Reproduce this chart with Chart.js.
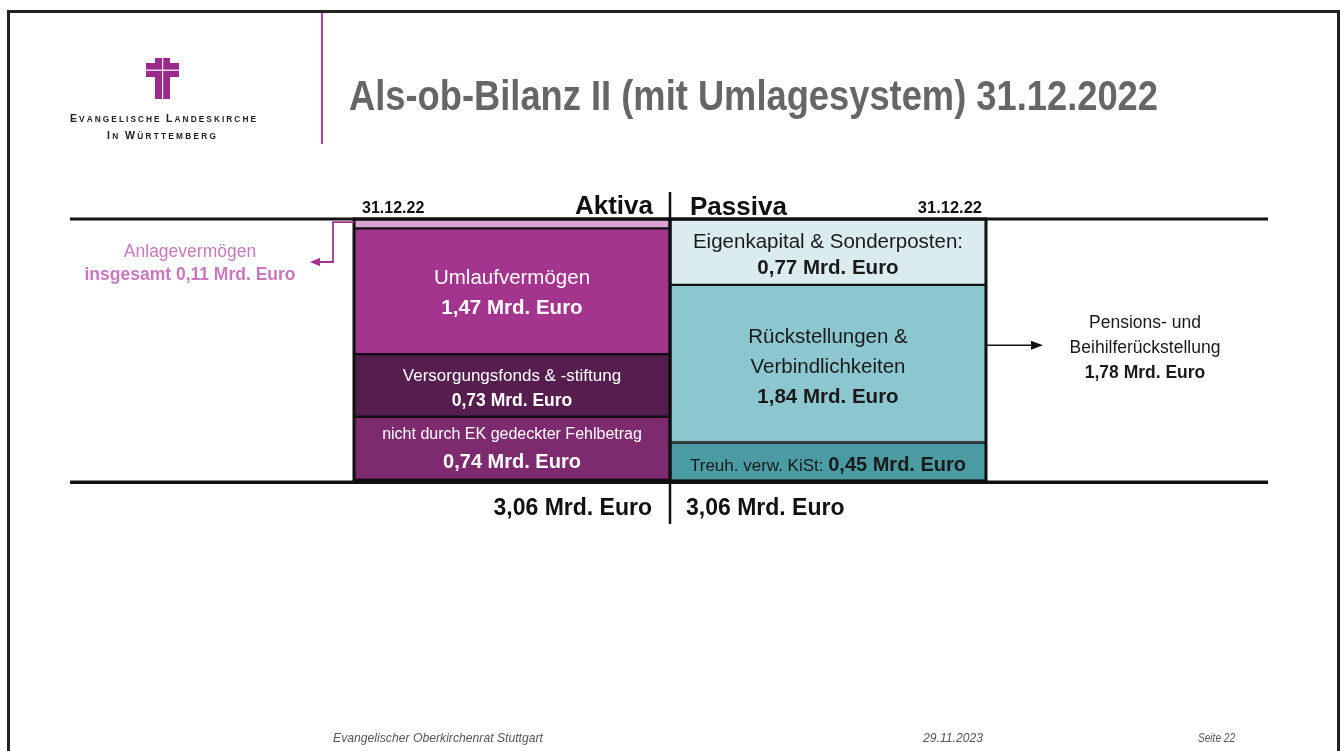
<!DOCTYPE html>
<html><head><meta charset="utf-8">
<script src="https://cdn.jsdelivr.net/npm/chart.js@4.4.1/dist/chart.umd.min.js"></script>
<style>html,body{margin:0;padding:0;background:#fff;overflow:hidden}canvas{display:block}</style>
</head><body>
<canvas id="c" width="1340" height="751"></canvas>
<script>
// ---------- data ----------
const categories = ['Aktiva', 'Passiva'];
const balanceDate = '31.12.22';
const balanceTotal = 3.06;
const totalLabels = ['3,06 Mrd. Euro', '3,06 Mrd. Euro'];
const aktivaItems = ['Anlagevermögen', 'Umlaufvermögen', 'Versorgungsfonds & -stiftung', 'nicht durch EK gedeckter Fehlbetrag'];
const aktivaValues = [0.11, 1.47, 0.73, 0.74];
const passivaItems = ['Eigenkapital & Sonderposten:', 'Rückstellungen &\nVerbindlichkeiten', 'Treuh. verw. KiSt:'];
const passivaValues = [0.77, 1.84, 0.45];
const pensionItem = ['Pensions- und', 'Beihilferückstellung'];
const pensionValue = 1.78;
const titleText = 'Als-ob-Bilanz II (mit Umlagesystem) 31.12.2022';
const orgLines = ['Evangelische Landeskirche', 'In Württemberg'];
const footerTexts = ['Evangelischer Oberkirchenrat Stuttgart', '29.11.2023', 'Seite 22'];

// ---------- styles ----------
const FF = '"Liberation Sans", Arial, sans-serif';
const aktivaColors = ['#DCA3D2', '#A3358F', '#561D4F', '#7D2A6F'];
const passivaColors = ['#DAECEF', '#8CC7CF', '#4B9BA3'];
const fmt = v => v.toFixed(2).replace('.', ',') + ' Mrd. Euro';

const datasets = [
  ...aktivaItems.map((n, i) => ({ label: n, data: [aktivaValues[i], null], backgroundColor: aktivaColors[i] })),
  ...passivaItems.map((n, i) => ({ label: n, data: [null, passivaValues[i]], backgroundColor: passivaColors[i] }))
].map(d => Object.assign(d, { borderColor: '#111', borderWidth: 1.5, borderSkipped: false, barPercentage: 1, categoryPercentage: 1, stack: 's' }));

const labelStyle = [
  null,
  { color: '#fff', lines: [{ size: 20.5, dy: -7.5 }, { size: 20.5, bold: true, dy: 23 }] },
  { color: '#fff', lines: [{ size: 17, dy: -5 }, { size: 17.5, bold: true, dy: 20.5 }] },
  { color: '#fff', lines: [{ size: 16, dy: -9 }, { size: 20, bold: true, dy: 20 }] },
  { color: '#1a1a1a', lines: [{ size: 20.5, dy: -4 }, { size: 20.5, bold: true, dy: 22.5 }] },
  { color: '#1a1a1a', lines: [{ size: 20.5, dy: -20.5 }, { size: 20.5, dy: 9.5 }, { size: 20.5, bold: true, dy: 39.5 }] },
  { color: '#1a1a1a', inline: true, size: 17, vsize: 20, dy: 9 }
];

function font(size, bold, italic) { return (italic ? 'italic ' : '') + (bold ? 'bold ' : '') + size + 'px ' + FF; }

function smallCaps(ctx, text, x0, x1, base, big, small) {
  const parts = [];
  text.split(' ').forEach((w, wi) => {
    if (wi > 0) parts.push({ ch: ' ', size: small });
    [...w].forEach((c, ci) => parts.push({ ch: c.toUpperCase(), size: ci === 0 ? big : small }));
  });
  let sum = 0;
  parts.forEach(p => { ctx.font = font(p.size, true); p.w = ctx.measureText(p.ch).width; sum += p.w; });
  const sp = (x1 - x0 - sum) / (parts.length - 1);
  let x = x0;
  ctx.textAlign = 'left';
  parts.forEach(p => { ctx.font = font(p.size, true); ctx.fillText(p.ch, x, base); x += p.w + sp; });
}

function arrowHead(ctx, tx, ty, dir, len, half) {
  ctx.beginPath();
  ctx.moveTo(tx, ty);
  ctx.lineTo(tx - dir * len, ty - half);
  ctx.lineTo(tx - dir * len, ty + half);
  ctx.closePath();
  ctx.fill();
}

const decor = {
  id: 'decor',
  beforeDraw(chart) {
    const ctx = chart.ctx;
    ctx.save();
    ctx.fillStyle = '#fff';
    ctx.fillRect(0, 0, 1340, 751);
    // frame
    ctx.fillStyle = '#222';
    ctx.fillRect(7, 10, 1333, 3);
    ctx.fillRect(7, 10, 3, 741);
    ctx.fillRect(1337, 10, 3, 741);
    // logo cross
    ctx.fillStyle = '#9A2A8C';
    ctx.fillRect(155, 58, 15, 41);
    ctx.fillRect(146, 63, 33, 14);
    ctx.fillStyle = '#fff';
    ctx.fillRect(162, 58, 1.2, 41);
    ctx.fillRect(146, 69.6, 33, 1.2);
    // logo text
    ctx.fillStyle = '#222';
    smallCaps(ctx, orgLines[0], 70, 256, 122, 10.5, 8.3);
    smallCaps(ctx, orgLines[1], 107, 216, 138.5, 10.5, 8.3);
    // purple separator
    ctx.fillStyle = '#B13FA5';
    ctx.fillRect(321, 13, 2, 131);
    // title (condensed bold)
    ctx.fillStyle = '#666';
    ctx.font = font(42, true);
    ctx.textAlign = 'left';
    ctx.textBaseline = 'alphabetic';
    const tw = ctx.measureText(titleText).width;
    ctx.save();
    ctx.translate(349, 109.5);
    ctx.scale(809 / tw, 1);
    ctx.fillText(titleText, 0, 0);
    ctx.restore();
    // footer
    ctx.fillStyle = '#555';
    ctx.font = font(13.5, false, true);
    ctx.fillText(footerTexts[0], 333, 742, 210);
    ctx.fillText(footerTexts[1], 923, 742, 60);
    ctx.fillText(footerTexts[2], 1198, 742, 37);
    ctx.restore();
  },
  afterDatasetsDraw(chart) {
    const ctx = chart.ctx;
    const area = chart.chartArea;
    const midX = (area.left + area.right) / 2;
    ctx.save();
    ctx.textBaseline = 'alphabetic';
    // column outlines
    const cols = [[], []];
    chart.data.datasets.forEach((ds, i) => {
      const side = ds.data[0] !== null ? 0 : 1;
      cols[side].push(chart.getDatasetMeta(i).data[side]);
    });
    ctx.strokeStyle = '#111';
    ctx.lineWidth = 3;
    cols.forEach(list => {
      const l = list[0].x - list[0].width / 2, r = list[0].x + list[0].width / 2;
      const t = Math.min(...list.map(e => Math.min(e.y, e.base)));
      const b = Math.max(...list.map(e => Math.max(e.y, e.base)));
      ctx.strokeRect(l, t, r - l, b - t);
    });
    // horizontal rules and divider
    ctx.fillStyle = '#111';
    ctx.fillRect(70, area.top - 1.5, 1198, 3);
    ctx.fillRect(70, area.bottom - 0.5, 1198, 3.5);
    ctx.fillRect(midX - 1.25, 192, 2.5, area.top - 192);
    ctx.fillRect(midX - 1.25, area.bottom, 2.5, 524 - area.bottom);
    // headers
    ctx.font = font(26, true);
    ctx.textAlign = 'right';
    ctx.fillText(categories[0], midX - 17, 214);
    ctx.textAlign = 'left';
    ctx.fillText(categories[1], midX + 20, 215);
    ctx.font = font(16, true);
    ctx.fillText(balanceDate, area.left + 8, 213);
    ctx.font = font(16.5, true);
    ctx.textAlign = 'right';
    ctx.fillText(balanceDate, area.right - 4, 213);
    // totals
    ctx.font = font(23, true);
    ctx.fillText(totalLabels[0], midX - 18, 515);
    ctx.textAlign = 'left';
    ctx.fillText(totalLabels[1], midX + 16, 515);
    // segment labels
    chart.data.datasets.forEach((ds, i) => {
      const st = labelStyle[i];
      if (!st) return;
      const side = ds.data[0] !== null ? 0 : 1;
      const el = chart.getDatasetMeta(i).data[side];
      const cy = (el.y + el.base) / 2;
      const val = ds.data[side];
      ctx.fillStyle = st.color;
      if (st.inline) {
        const a = ds.label + ' ';
        const b = fmt(val);
        ctx.font = font(st.size, false); const wa = ctx.measureText(a).width;
        ctx.font = font(st.vsize, true); const wb = ctx.measureText(b).width;
        const x = el.x - (wa + wb) / 2;
        ctx.textAlign = 'left';
        ctx.font = font(st.size, false); ctx.fillText(a, x, cy + st.dy);
        ctx.font = font(st.vsize, true); ctx.fillText(b, x + wa, cy + st.dy);
      } else {
        const texts = ds.label.split('\n').concat([fmt(val)]);
        ctx.textAlign = 'center';
        texts.forEach((t, k) => {
          const ln = st.lines[k];
          ctx.font = font(ln.size, ln.bold);
          ctx.fillText(t, el.x, cy + ln.dy);
        });
      }
    });
    // Anlagevermögen annotation (left)
    const anl = chart.getDatasetMeta(0).data[0];
    const ay = (anl.y + anl.base) / 2 - 1.5;
    const aLeft = anl.x - anl.width / 2;
    ctx.strokeStyle = '#A3358F';
    ctx.fillStyle = '#A3358F';
    ctx.lineWidth = 1.8;
    ctx.beginPath();
    ctx.moveTo(aLeft, ay);
    ctx.lineTo(333, ay);
    ctx.lineTo(333, 262);
    ctx.lineTo(318, 262);
    ctx.stroke();
    arrowHead(ctx, 310, 262, -1, 10, 4.2);
    ctx.fillStyle = '#C978BC';
    ctx.textAlign = 'center';
    ctx.font = font(17.5, false);
    ctx.fillText(aktivaItems[0], 190, 257);
    ctx.font = font(17.5, true);
    ctx.fillText('insgesamt ' + fmt(aktivaValues[0]), 190, 280);
    // Pension annotation (right)
    const rk = chart.getDatasetMeta(5).data[1];
    const py = (rk.y + rk.base) / 2 - 18.5;
    ctx.strokeStyle = '#111';
    ctx.fillStyle = '#111';
    ctx.lineWidth = 1.5;
    ctx.beginPath();
    ctx.moveTo(area.right + 1, py);
    ctx.lineTo(1032, py);
    ctx.stroke();
    arrowHead(ctx, 1043, py, 1, 12, 4.5);
    ctx.fillStyle = '#1a1a1a';
    ctx.font = font(17.5, false);
    ctx.fillText(pensionItem[0], 1145, py - 17);
    ctx.fillText(pensionItem[1], 1145, py + 8);
    ctx.font = font(17.5, true);
    ctx.fillText(fmt(pensionValue), 1145, py + 33);
    ctx.restore();
  }
};

new Chart(document.getElementById('c').getContext('2d'), {
  type: 'bar',
  data: { labels: categories, datasets },
  options: {
    responsive: false,
    animation: false,
    devicePixelRatio: 1,
    events: [],
    layout: { padding: { left: 354, right: 354, top: 219, bottom: 270 } },
    plugins: { legend: { display: false }, tooltip: { enabled: false }, title: { display: false } },
    scales: {
      x: { stacked: true, display: false },
      y: { stacked: true, display: false, min: 0, max: balanceTotal, reverse: true }
    }
  },
  plugins: [decor]
});
</script>
</body></html>
